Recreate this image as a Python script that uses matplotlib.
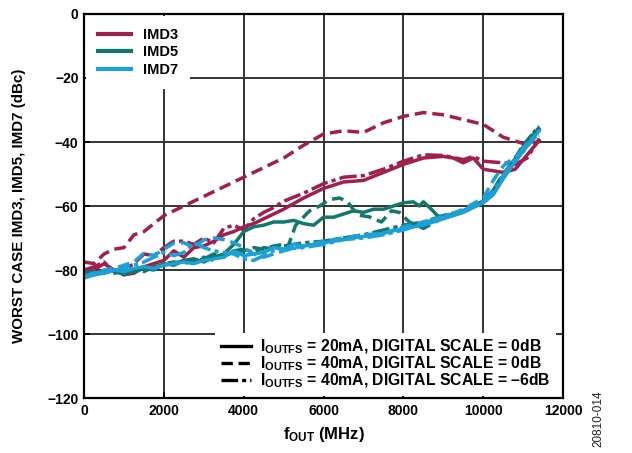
import matplotlib
matplotlib.use('Agg')
import matplotlib.pyplot as plt
from matplotlib.lines import Line2D

plt.rcParams['font.family'] = ['Liberation Sans', 'DejaVu Sans']
plt.rcParams['font.weight'] = 'bold'
plt.rcParams['mathtext.fontset'] = 'custom'
plt.rcParams['mathtext.rm'] = 'Liberation Sans:bold'
plt.rcParams['mathtext.it'] = 'Liberation Sans:bold'
plt.rcParams['mathtext.bf'] = 'Liberation Sans:bold'

# ---- data ----
# IMD3
imd3_solid_x = [0, 250, 500, 750, 1000, 1250, 1500, 1750, 2000, 2250, 2500, 2750, 3000, 3250, 3500, 3750,
                4000, 4250, 4500, 4750, 5000, 5500, 6000, 6500, 7000, 7500, 8000, 8500, 9000, 9250, 9500,
                9750, 10000, 10500, 10800, 11100, 11400]
imd3_solid_y = [-81, -80, -78, -80, -81.5, -81, -79, -78, -77, -74, -76, -73, -72.5, -71, -69, -68,
                -66.5, -65.5, -64, -62.5, -61, -57.5, -54.5, -52.5, -52, -49.5, -47, -45, -44.5, -45, -46.5,
                -45, -48.5, -49.5, -48.5, -44, -39.5]
imd3_dash_x = [0, 250, 500, 750, 1000, 1250, 1500, 2000, 2500, 3000, 3500, 4000, 4500, 5000, 5500, 6000,
               6500, 7000, 7500, 8000, 8500, 9000, 9500, 10000, 10500, 11000, 11400]
imd3_dash_y = [-77.5, -78, -75, -73.5, -73, -69, -68, -63, -60, -57, -54, -51, -48, -45, -41, -37.5,
               -36.5, -37, -34, -32, -30.8, -31.5, -33, -34.5, -38.5, -40.5, -40]
imd3_dd_x = [0, 250, 500, 750, 1000, 1250, 1500, 1750, 2000, 2250, 2500, 2750, 3000, 3250, 3500, 3750,
             4000, 4250, 4500, 4750, 5000, 5500, 6000, 6500, 7000, 7500, 8000, 8500, 9000, 9500, 9750,
             10000, 10500, 10800, 11100, 11400]
imd3_dd_y = [-80, -79, -77.5, -80.5, -80, -78, -75, -75.5, -73, -71, -71, -72, -70, -71.5, -67, -66,
             -67.5, -64, -62, -60.5, -58.5, -56, -53, -51, -50.5, -48.5, -46, -44, -44.2, -45.5, -44.5,
             -46, -46.5, -47, -45, -39]

# IMD5
imd5_solid_x = [0, 250, 500, 750, 1000, 1250, 1500, 1750, 2000, 2250, 2500, 2750, 3000, 3250, 3500, 3750,
                4000, 4250, 4500, 4750, 5000, 5250, 5500, 5750, 6000, 6250, 6500, 6750, 7000, 7250, 7500,
                7750, 8000, 8250, 8400, 8500, 8700, 8850, 9000, 9500, 10000, 10250, 10500, 10750, 11000,
                11200, 11400]
imd5_solid_y = [-82, -81.5, -80.5, -80, -81, -80.5, -79.5, -80, -78, -78.5, -77, -76.5, -77.5, -76, -75, -72,
                -68, -66.5, -66, -65, -65, -64.5, -65.5, -66, -63.5, -63.5, -62.5, -61.5, -62, -61, -61,
                -60, -59, -58.7, -60, -58.7, -61, -63, -63.5, -61.5, -58.5, -55, -50.5, -46, -42,
                -38.5, -36]
imd5_dash_x = [0, 250, 500, 750, 1000, 1250, 1500, 1750, 2000, 2250, 2500, 2750, 3000, 3250, 3500, 3750,
               4000, 4250, 4500, 4750, 5000, 5100, 5300, 5650, 5900, 6150, 6400, 6600, 6850, 7150, 7450,
               7700, 7900, 8150, 8500, 8800, 9000, 9500, 10000, 10250, 10500, 10750, 11000, 11200, 11400]
imd5_dash_y = [-81, -80.5, -81, -80, -81.5, -80, -79, -79.5, -78, -77.5, -78, -77, -76, -77, -75.5, -74.5,
               -74, -73, -73.5, -72.5, -72, -73, -66, -61.5, -60, -58, -57.5, -58.7, -62.8, -63.4, -65,
               -61.5, -62, -65, -67, -65, -63.5, -61.5, -58.5, -55, -50, -46, -41, -38, -35.5]
imd5_dd_x = [0, 250, 500, 750, 1000, 1250, 1500, 1750, 2000, 2250, 2500, 2750, 3000, 3250, 3500, 3750,
             4000, 4250, 4500, 4750, 5000, 5500, 6000, 6500, 7000, 7500, 8000, 8500, 9000, 9500, 10000,
             10250, 10500, 10750, 11000, 11200, 11400]
imd5_dd_y = [-81.5, -81, -80.5, -81, -80.5, -80, -80.5, -79, -78.5, -78, -77, -77.5, -76.5, -75, -76, -74,
             -73.5, -74.5, -73, -73.5, -72.5, -71.5, -71, -70, -69, -67.5, -66, -65, -63, -61.5, -58.5,
             -56, -51, -46.5, -41.5, -38, -35]

# IMD7
imd7_solid_x = [0, 250, 500, 750, 1000, 1250, 1500, 1750, 2000, 2250, 2500, 2750, 3000, 3250, 3500, 3750,
                4000, 4250, 4500, 4750, 5000, 5250, 5500, 6000, 6500, 7000, 7500, 8000, 8500, 9000, 9500,
                10000, 10250, 10500, 10750, 11000, 11200, 11400]
imd7_solid_y = [-82.5, -81.5, -81, -80, -80.5, -79.5, -79, -79.5, -78.5, -78, -77.5, -78, -77, -76.5, -76, -74,
                -75.5, -75, -74.5, -73, -73.5, -72, -72.5, -71.5, -70.5, -69.5, -68.5, -67, -66, -64, -62,
                -59, -56.5, -51.5, -47, -43, -39.5, -36.5]
imd7_dash_x = [0, 250, 500, 750, 1000, 1250, 1500, 1750, 2000, 2250, 2500, 2750, 3000, 3250, 3500, 3750,
               4000, 4250, 4500, 4750, 5000, 5500, 6000, 6500, 7000, 7500, 8000, 8500, 9000, 9500, 10000,
               10250, 10500, 10750, 11000, 11200, 11400]
imd7_dash_y = [-82, -81, -80, -79.5, -78.5, -77.5, -74.7, -75.5, -73.5, -71.6, -71.5, -72.8, -70.6, -70, -70.5, -71.5,
               -73, -75, -76, -75, -74, -72.5, -71, -70, -69, -68.5, -66.5, -65, -63.5, -61, -57.5,
               -52, -47.5, -45, -43, -40, -37]
imd7_dd_x = [0, 250, 500, 750, 1000, 1250, 1500, 1750, 2000, 2250, 2500, 2750, 3000, 3250, 3500, 3750,
             4000, 4250, 4500, 4750, 5000, 5500, 6000, 6500, 7000, 7500, 8000, 8500, 9000, 9500, 10000,
             10250, 10500, 10750, 11000, 11200, 11400]
imd7_dd_y = [-82, -81, -80.5, -80, -79.5, -78.5, -77.5, -76, -74.5, -75.5, -74.5, -71.5, -73, -74, -74.5, -75,
             -76.5, -77, -75.5, -74, -73.5, -73, -72, -70.5, -70, -69, -67.5, -65.5, -63, -61.5, -58.5,
             -55.5, -50.5, -46, -42, -39, -38]

col_imd3 = '#A21E4D'
col_imd5 = '#11786C'
col_imd7 = '#1CA0D8'
dash = (0, (3.4, 1.7))
dashdot = (0, (5, 1.2, 1.2, 1.2))
lw = 2.5

fig = plt.figure(figsize=(6.32, 4.53), dpi=100)
ax = fig.add_axes([0.133, 0.1214, 0.758, 0.8477])

series = [
    (imd3_solid_x, imd3_solid_y, col_imd3, '-'),
    (imd3_dash_x, imd3_dash_y, col_imd3, dash),
    (imd3_dd_x, imd3_dd_y, col_imd3, dashdot),
    (imd5_solid_x, imd5_solid_y, col_imd5, '-'),
    (imd5_dash_x, imd5_dash_y, col_imd5, dash),
    (imd5_dd_x, imd5_dd_y, col_imd5, dashdot),
    (imd7_solid_x, imd7_solid_y, col_imd7, '-'),
    (imd7_dash_x, imd7_dash_y, col_imd7, dash),
    (imd7_dd_x, imd7_dd_y, col_imd7, dashdot),
]
for x, y, c, ls in series:
    ax.plot(x, y, color=c, linestyle=ls, linewidth=lw)

ax.set_xlim(0, 12000)
ax.set_ylim(-120, 0)
ax.set_xticks(range(0, 12001, 2000))
ax.set_yticks(range(-120, 1, 20))
ax.set_axisbelow(True)
ax.grid(True, color='#333333', linewidth=1.4)
ax.tick_params(direction='in', length=4, width=1.2, labelsize=10, pad=4)
for lab in ax.get_xticklabels() + ax.get_yticklabels():
    lab.set_fontweight('bold')
for sp in ax.spines.values():
    sp.set_linewidth(1.6)

ax.set_xlabel('f$_{\\rm OUT}$ (MHz)', fontsize=12, fontweight='bold', labelpad=5)
ax.set_ylabel('WORST CASE IMD3, IMD5, IMD7 (dBc)', fontsize=10.9, fontweight='bold', labelpad=15)

h1 = [Line2D([], [], color=col_imd3, lw=3),
      Line2D([], [], color=col_imd5, lw=3),
      Line2D([], [], color=col_imd7, lw=3)]
leg1 = ax.legend(h1, ['IMD3', 'IMD5', 'IMD7'], loc='upper left', bbox_to_anchor=(0.0, 1.0),
                 frameon=True, fancybox=False, edgecolor='none', facecolor='white', framealpha=1,
                 prop={'weight': 'bold', 'size': 10.5}, handlelength=2.3, handletextpad=0.8,
                 labelspacing=0.25, borderpad=0.8, borderaxespad=0.15)
leg1.set_zorder(5)
ax.add_artist(leg1)

h2 = [Line2D([], [], color='black', lw=2.4, linestyle='-'),
      Line2D([], [], color='black', lw=2.4, linestyle=dash),
      Line2D([], [], color='black', lw=2.4, linestyle=dashdot)]
labels2 = ['I$_{\\rm OUTFS}$ = 20mA, DIGITAL SCALE = 0dB',
           'I$_{\\rm OUTFS}$ = 40mA, DIGITAL SCALE = 0dB',
           'I$_{\\rm OUTFS}$ = 40mA, DIGITAL SCALE = \u20136dB']
leg2 = ax.legend(h2, labels2, loc='lower right', bbox_to_anchor=(0.99, 0.0),
                 frameon=True, fancybox=False, edgecolor='none', facecolor='white', framealpha=1,
                 prop={'weight': 'bold', 'size': 11.3}, handlelength=1.9, handletextpad=0.6,
                 labelspacing=-0.1, borderpad=0.35, borderaxespad=0.15)
leg2.set_zorder(5)

fig.text(0.947, 0.075, '20810-014', rotation=90, fontsize=8.5, fontweight='normal',
         ha='center', va='center', color='#222222')

fig.savefig('out.png', dpi=100)
